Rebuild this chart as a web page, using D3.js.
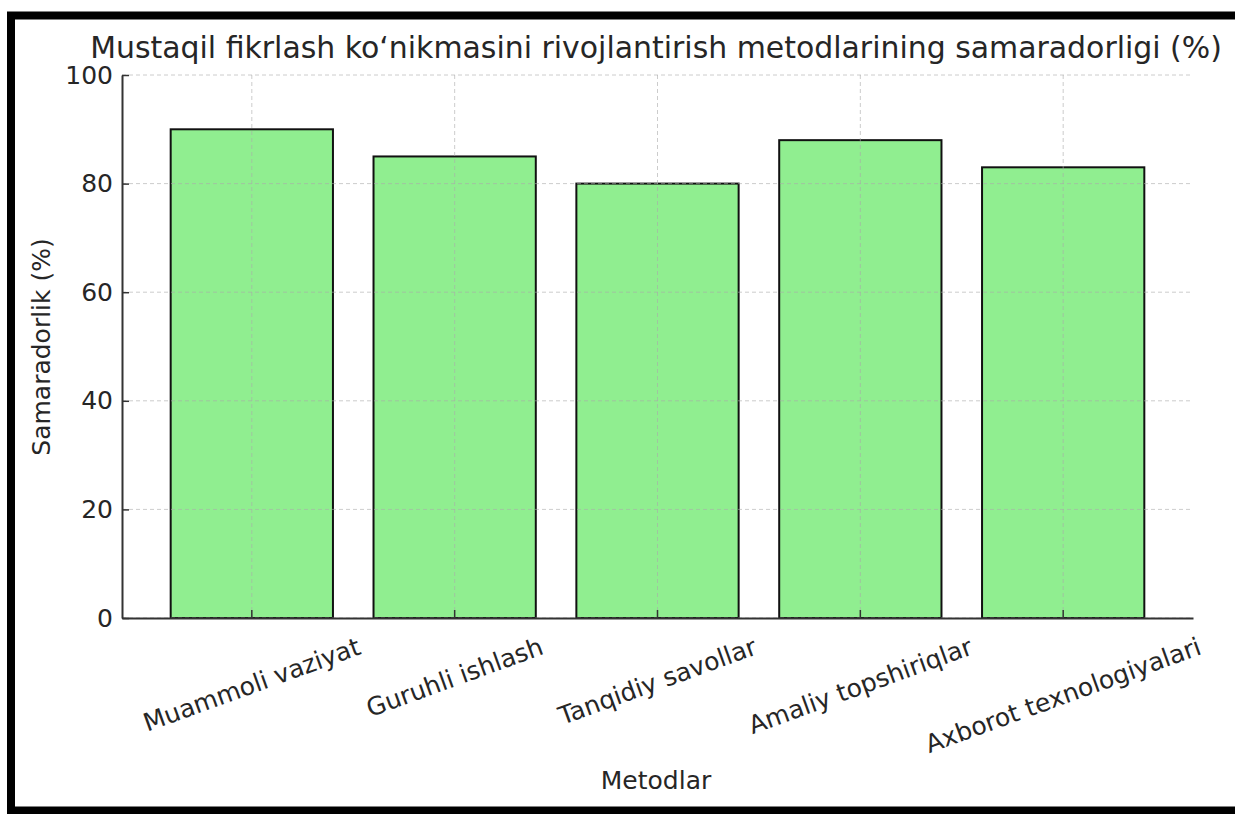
<!DOCTYPE html>
<html>
<head>
<meta charset="utf-8">
<script src="https://cdn.jsdelivr.net/npm/d3@7/dist/d3.min.js"></script>
<style>
  body{margin:0;background:#fff;}
  text{font-family:"DejaVu Sans",sans-serif;fill:#262626;}
</style>
</head>
<body>
<svg id="chart" width="1235" height="814"></svg>
<script>
// données
const methods=["Muammoli vaziyat","Guruhli ishlash","Tanqidiy savollar","Amaliy topshiriqlar","Axborot texnologiyalari"];
const values=[90,85,80,88,83];
const yTicks=[0,20,40,60,80,100];

const svg=d3.select("#chart");

// cadre noir autour de l'image
svg.append("rect").attr("x",11).attr("y",15.5).attr("width",1240).attr("height",795)
  .attr("fill","none").attr("stroke","#000").attr("stroke-width",8);

const x=d3.scaleBand().domain(methods).range([122,1193]).paddingInner(0.2).paddingOuter(0.24);
const y=d3.scaleLinear().domain([0,100]).range([618,75]);

// barres
svg.append("g").selectAll("rect").data(values).join("rect")
  .attr("x",(d,i)=>x(methods[i]))
  .attr("y",d=>y(d))
  .attr("width",x.bandwidth())
  .attr("height",d=>y(0)-y(d))
  .attr("fill","#90ee90")
  .attr("stroke","#111").attr("stroke-width",2);

// grille (au-dessus des barres)
const grid=svg.append("g").attr("stroke","#aaaaaa").attr("stroke-opacity",0.6)
  .attr("stroke-width",1).attr("stroke-dasharray","4,3");
grid.selectAll(".h").data(yTicks).join("line").attr("class","h")
  .attr("x1",122).attr("x2",1193).attr("y1",d=>y(d)).attr("y2",d=>y(d));
grid.selectAll(".v").data(methods).join("line").attr("class","v")
  .attr("x1",d=>x(d)+x.bandwidth()/2).attr("x2",d=>x(d)+x.bandwidth()/2)
  .attr("y1",75).attr("y2",618);

// axe Y
const yAxis=svg.append("g").attr("transform","translate(122,0)")
  .call(d3.axisLeft(y).tickValues(yTicks).tickSizeInner(-7).tickSizeOuter(0).tickPadding(9));
yAxis.select(".domain").attr("stroke","#333").attr("stroke-width",2);
yAxis.selectAll(".tick line").attr("stroke","#333").attr("stroke-width",1.5);
yAxis.selectAll("text").attr("font-size",25).attr("font-family","DejaVu Sans").attr("fill","#262626");

// axe X
const xAxis=svg.append("g").attr("transform","translate(0,618)")
  .call(d3.axisBottom(x).tickSizeInner(-8).tickSizeOuter(0));
xAxis.select(".domain").attr("stroke","#333").attr("stroke-width",2);
xAxis.selectAll(".tick line").attr("stroke","#333").attr("stroke-width",1.5);
xAxis.selectAll("text")
  .attr("font-size",25).attr("font-family","DejaVu Sans").attr("fill","#262626")
  .attr("text-anchor","middle").attr("dy",null).attr("dominant-baseline","central")
  .each(function(){
    let L=this.getComputedTextLength();
    let h=25*1.16;
    let a=20*Math.PI/180;
    let cy=14+(L*Math.sin(a)+h*Math.cos(a))/2;
    d3.select(this).attr("y",0).attr("transform",`translate(0,${cy}) rotate(-20)`);
  });

// titre : police haute, resserrée horizontalement comme sur l'image
let title=svg.append("text").attr("text-anchor","middle").attr("font-size",31)
  .text("Mustaqil fikrlash ko‘nikmasini rivojlantirish metodlarining samaradorligi (%)");
let k=1132/title.node().getComputedTextLength();
title.attr("transform",`translate(656,58) scale(${k},1)`);

svg.append("text").attr("x",656).attr("y",789).attr("text-anchor","middle")
  .attr("font-size",25).text("Metodlar");
svg.append("text").attr("transform","translate(50,347) rotate(-90)").attr("text-anchor","middle")
  .attr("font-size",25).text("Samaradorlik (%)");
</script>
</body>
</html>
